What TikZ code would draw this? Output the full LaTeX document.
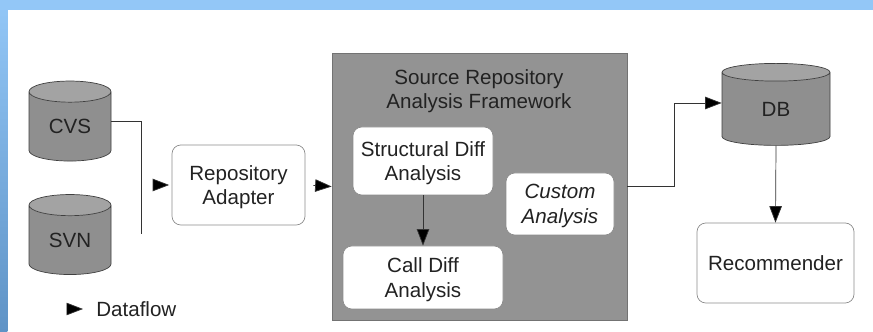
\documentclass[tikz,border=0pt]{standalone}
\usepackage{fontspec}
\setmainfont{Liberation Sans}
\usetikzlibrary{shapes.geometric}
\usetikzlibrary{arrows.meta}

\definecolor{bandtop}{HTML}{93C7F7}
\definecolor{bandlow}{HTML}{5F93C6}
\definecolor{framegray}{HTML}{939393}
\definecolor{cylbody}{HTML}{8F8F8F}
\definecolor{cyltop}{HTML}{A3A3A3}
\definecolor{inktext}{HTML}{222222}

\tikzset{
  label text/.style={font=\fontsize{11.7}{14}\selectfont, text=inktext, align=center, text depth=0pt},
  whitebox/.style={label text, draw=black!45, fill=white, rounded corners=5pt, inner sep=0pt},
  repo/.style={label text, draw=black!75, cylinder, shape border rotate=90, aspect=0.5,
    cylinder uses custom fill, cylinder body fill=cylbody, cylinder end fill=cyltop, inner sep=0pt},
  flow/.style={draw=black!80, -{Triangle[length=0.33cm,width=0.25cm,fill=black]}},
  wire/.style={draw=black!80}
}

\begin{document}
\begin{tikzpicture}

\useasboundingbox (0,0) rectangle (17.46,6.64);

% Fondo
\fill[white] (0,0) rectangle (17.46,6.64);
\shade[top color=bandtop, bottom color=bandlow] (0,0) rectangle (0.15,6.64);
\fill[bandtop] (0,6.44) rectangle (17.46,6.64);

% Repositorios
\node[repo, minimum width=1.64cm, minimum height=1.6cm] (cvs) at (1.4,4.11) {CVS};
\node[repo, minimum width=1.64cm, minimum height=1.6cm] (svn) at (1.4,1.84) {SVN};

% Adapter
\node[whitebox, minimum width=2.66cm, minimum height=1.6cm] (adapter) at (4.77,2.94) {Repository\\Adapter};

% Framework
\node[draw=black!55, fill=framegray, minimum width=5.9cm, minimum height=5.34cm] (framework) at (9.59,2.91) {};
\node[label text] (frametitle) at (9.58,4.86) {Source Repository\\Analysis Framework};
\node[whitebox, minimum width=2.8cm, minimum height=1.36cm] (structural) at (8.46,3.42) {Structural Diff\\Analysis};
\node[whitebox, minimum width=3.2cm, minimum height=1.26cm] (calldiff) at (8.46,1.09) {Call Diff\\Analysis};
\node[whitebox, minimum width=2.16cm, minimum height=1.24cm] (custom) at (11.2,2.56) {\itshape Custom\\\itshape Analysis};

% DB
\node[repo, aspect=0.62, minimum width=2.16cm, minimum height=1.64cm] (db) at (15.52,4.46) {DB};
\node[whitebox, minimum width=3.14cm, minimum height=1.6cm] (recommender) at (15.51,1.38) {Recommender};

% Leyenda
\node[label text, inner sep=0pt, anchor=west] (dataflow) at (1.92,0.46) {Dataflow};

% Flechas
\coordinate (joinend) at (2.82,1.96);
\coordinate (join) at (2.82,2.94);
\coordinate (bend) at (13.48,2.91);
\coordinate (legendtail) at (1.38,0.46);

\draw[wire] ([yshift=0.11cm]cvs.east) -| (joinend);
\draw[flow, shorten <=0.24cm, shorten >=0.05cm] (join) -- (adapter.west);
\draw[flow, shorten <=0.16cm] (adapter.east) -- (framework.west);
\draw[flow] (structural) -- (calldiff);
\draw[flow] (framework.east) -- (bend) |- ([yshift=0.12cm]db.west);
\draw[flow] (db.south) -- (recommender.north);
\draw[flow, shorten >=0.26cm] (legendtail) -- (dataflow.west);
\end{tikzpicture}
\end{document}
